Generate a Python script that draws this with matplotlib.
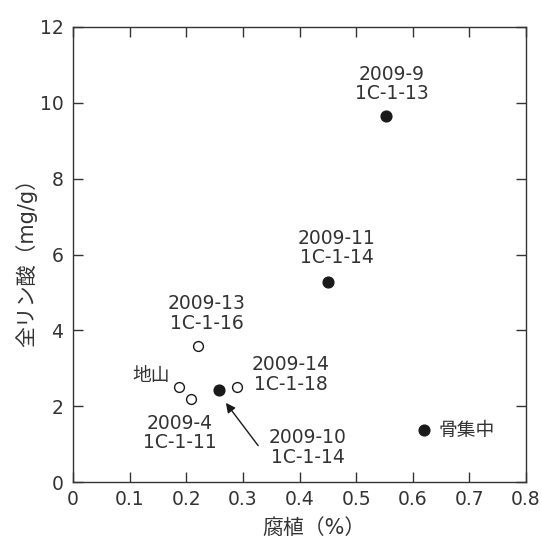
import matplotlib
matplotlib.use("Agg")
import matplotlib.pyplot as plt

plt.rcParams['font.family'] = ['DejaVu Sans', 'Noto Sans CJK JP']

# data
filled_x = [0.552, 0.450, 0.258, 0.619]
filled_y = [9.65, 5.28, 2.43, 1.37]
open_x = [0.220, 0.187, 0.208, 0.289]
open_y = [3.60, 2.51, 2.18, 2.51]

labels = ["2009-9\n1C-1-13", "2009-11\n1C-1-14", "2009-13\n1C-1-16", "2009-14\n1C-1-18",
          "地山", "2009-4\n1C-1-11", "2009-10\n1C-1-14", "骨集中"]
label_x = [0.563, 0.466, 0.2366, 0.316, 0.171, 0.189, 0.415, 0.645]
label_y = [10.50, 6.17, 4.45, 2.84, 2.82, 1.29, 0.91, 1.37]
label_ha = ['center', 'center', 'center', 'left', 'right', 'center', 'center', 'left']

xticks = [0, 0.1, 0.2, 0.3, 0.4, 0.5, 0.6, 0.7, 0.8]
xtick_labels = ['0', '0.1', '0.2', '0.3', '0.4', '0.5', '0.6', '0.7', '0.8']
yticks = [0, 2, 4, 6, 8, 10, 12]

col = '#333333'
fig = plt.figure(figsize=(5.42, 5.36), dpi=100)
ax = fig.add_axes([73/542, 1-482/536, 453/542, 455/536])

ax.scatter(filled_x, filled_y, s=60, color='#1a1a1a', zorder=3)
ax.scatter(open_x, open_y, s=50, facecolor='white', edgecolor='#1a1a1a', linewidth=1.0, zorder=3)

for t, x, y, ha in zip(labels, label_x, label_y, label_ha):
    ax.text(x, y, t, ha=ha, va='center', fontsize=13.5, color=col, linespacing=1.05,
            multialignment='center')

ax.annotate('', xy=(0.267, 2.145), xytext=(0.330, 0.90),
            arrowprops=dict(arrowstyle='-|>', color='#1a1a1a', lw=1.0, mutation_scale=14))

ax.set_xlim(0, 0.8)
ax.set_ylim(0, 12)
ax.set_xticks(xticks)
ax.set_xticklabels(xtick_labels)
ax.set_yticks(yticks)
ax.tick_params(direction='in', length=7, width=1, colors=col, labelsize=13.5, labelcolor=col,
               top=True, right=True)
ax.tick_params(axis='x', pad=6)
ax.tick_params(axis='y', pad=7)
for s in ax.spines.values():
    s.set_color(col)
    s.set_linewidth(1.0)

ax.set_xlabel('腐植（%）', fontsize=15, color=col)
ax.xaxis.set_label_coords(0.531, -0.079)
ax.set_ylabel('全リン酸（mg/g）', fontsize=15, color=col)
ax.yaxis.set_label_coords(-0.0795, 0.4945)

fig.savefig('out.png', dpi=100)
